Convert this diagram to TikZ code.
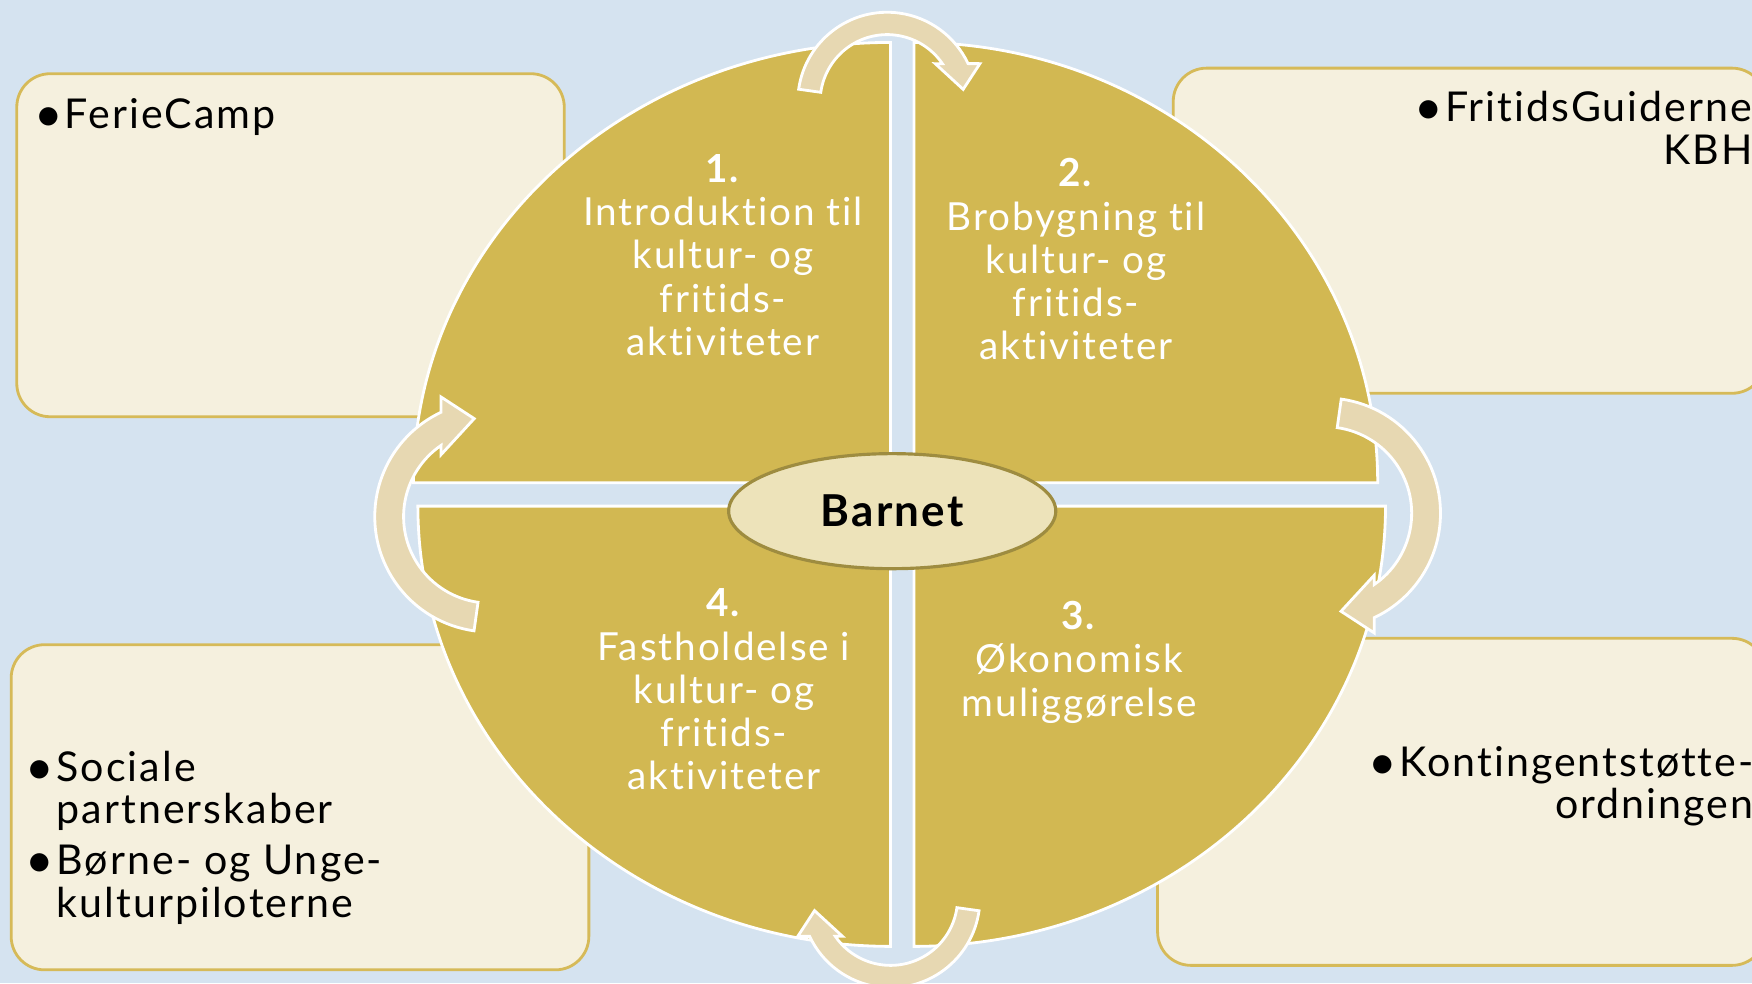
\documentclass[tikz,border=0pt]{standalone}
\usepackage{fontspec}
\setmainfont{Lato}[LetterSpace=5, Ligatures=NoCommon]
\usetikzlibrary{shapes.geometric, positioning}
\definecolor{bgBlue}{RGB}{213,227,240}
\definecolor{quadGold}{RGB}{210,184,82}
\definecolor{boxCream}{RGB}{245,240,222}
\definecolor{boxLine}{RGB}{214,186,88}
\definecolor{arrowSand}{RGB}{231,216,178}
\definecolor{hubFill}{RGB}{237,227,186}
\definecolor{hubLine}{RGB}{158,140,64}
\tikzstyle{quad} = [fill=quadGold, draw=white, line width=0.8pt]
\tikzstyle{infobox} = [fill=boxCream, draw=boxLine, line width=0.8pt, rounded corners=9.5pt]
\tikzstyle{quadtext} = [text=white, align=center, inner sep=0, font=\fontsize{11}{12.3}\selectfont]
\tikzstyle{boxtext} = [text=black, inner sep=0, font=\fontsize{11.7}{12.05}\selectfont]
\newcommand\bul{\raisebox{-0.8pt}{\fontsize{14}{12}\selectfont •}\hspace{0.6pt}}
\tikzset{
	cyclearrow/.pic={
		\path[fill=arrowSand, draw=white, line width=0.8pt]
			(172:80) arc[start angle=172, end angle=25.2, radius=80]
			-- (83,34) -- (68,11) -- (43,34)
			-- (34.5:60) arc[start angle=34.5, end angle=172, radius=60] -- cycle;
	}% end of pic
}
\begin{document}
\begin{tikzpicture}[x=0.011173cm, y=0.011173cm]
%----------------------------------------------------------------------------
% Background and side boxes
\useasboundingbox (0,0) rectangle (1568,880);
\fill[bgBlue] (0,0) rectangle (1568,880);
\path[infobox] (15,507) rectangle (505,814);
\path[infobox] (1050,528) rectangle (1580,819);
\path[infobox] (10,12) rectangle (527,303);
\path[infobox] (1036,16) rectangle (1580,308.7);

%----------------------------------------------------------------------------
% Quadrants of the cycle
\path[quad] (797,448) -- (370,448) arc[start angle=180, end angle=90, x radius=427, y radius=394] -- cycle;
\path[quad] (818,448) -- (818,842) arc[start angle=90, end angle=0, x radius=415, y radius=394] -- cycle;
\path[quad] (818,427) -- (1240,427) arc[start angle=0, end angle=-90, x radius=422, y radius=394] -- cycle;
\path[quad] (797,427) -- (797,33) arc[start angle=270, end angle=180, x radius=423, y radius=394] -- cycle;

\node (barnet) [ellipse, fill=hubFill, draw=hubLine, line width=0.9pt, minimum width=3.27cm, minimum height=1.15cm, inner sep=0, font=\fontsize{12.5}{14}\selectfont\bfseries] at (798.5,422.5) {Barnet};

% base anchor of these nodes sits on their last line
\node (introTxt) [quadtext, anchor=base] at (647,562) {\textbf{1.}\\Introduktion til\\kultur- og\\fritids-\\aktiviteter};
\node (broTxt) [quadtext, anchor=base] at (963,558) {\textbf{2.}\\Brobygning til\\kultur- og\\fritids-\\aktiviteter};
\node (econTxt) [quadtext, anchor=base] at (966,239) {\textbf{3.}\\Økonomisk\\muliggørelse};
\node (retainTxt) [quadtext, anchor=base] at (648,173) {\textbf{4.}\\Fastholdelse i\\kultur- og\\fritids-\\aktiviteter};

%----------------------------------------------------------------------------
% Box texts
\node (ferieTxt) [boxtext, anchor=base west] at (30,765) {\bul FerieCamp};
\node (guideTxt) [boxtext, anchor=base east, align=right] at (1569,733) {\bul FritidsGuiderne\\KBH};
\node (partnerTxt) [boxtext, anchor=base west, align=left] at (50,59) {\llap{\bul}Sociale\\partnerskaber\\[2.5pt]\llap{\bul}Børne- og Unge-\\kulturpiloterne};
\node (kontTxt) [boxtext, anchor=base east, align=right] at (1570,147) {\bul Kontingentstøtte-\\ordningen};

%----------------------------------------------------------------------------
% Cycle arrows
\pic (arrowTop) at (794,789) {cyclearrow};
\pic (arrowRight) [scale=1.29, rotate=-90] at (1186,420.6) {cyclearrow};
\pic (arrowBottom) [rotate=180] at (797,76) {cyclearrow};
\pic (arrowLeft) [scale=1.29, rotate=90] at (438.6,417.6) {cyclearrow};

\end{tikzpicture}
\end{document}
